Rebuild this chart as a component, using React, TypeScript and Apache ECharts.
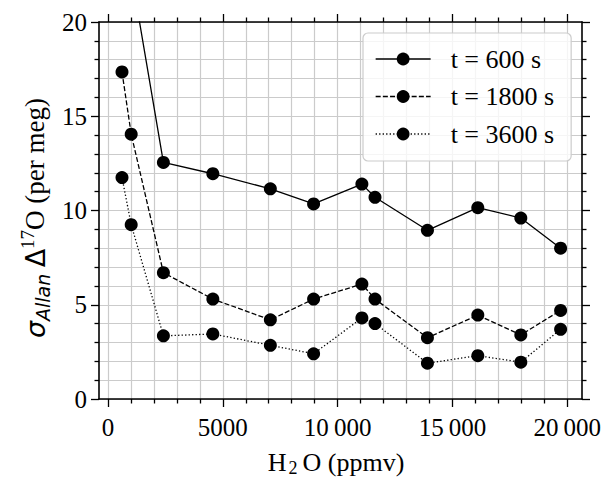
import React, { useEffect, useRef } from "react";
import * as echarts from "echarts";

// Water concentration of each measurement step (ppmv)
const h2o = [600, 1000, 2400, 4550, 7050, 8930, 11030, 11600, 13880, 16070, 17940, 19670];
// Allan deviation of Δ17O (per meg) at three integration times
const sigma600 = [28.4, 22.6, 12.55, 11.95, 11.15, 10.35, 11.4, 10.7, 8.95, 10.15, 9.6, 8.0];
const sigma1800 = [17.35, 14.05, 6.7, 5.3, 4.2, 5.3, 6.1, 5.3, 3.25, 4.45, 3.4, 4.7];
const sigma3600 = [11.75, 9.25, 3.35, 3.45, 2.85, 2.4, 4.3, 4.0, 1.9, 2.3, 1.95, 3.7];
const seriesNames = ["t = 600 s", "t = 1800 s", "t = 3600 s"];
const xTicks = [0, 5000, 10000, 15000, 20000];

const serif = '"Liberation Serif", "Times New Roman", serif';
const sans = '"DejaVu Sans", sans-serif';
const gridColor = "#cbcbcb";

const fmtThousands = (v: number) => {
  if (v < 10000) return String(v);
  const s = String(v);
  return s.slice(0, s.length - 3) + "\u2009" + s.slice(s.length - 3);
};

export default function App() {
  const ref = useRef<HTMLDivElement>(null);

  useEffect(() => {
    if (!ref.current) return;
    const chart = echarts.init(ref.current, null, { renderer: "svg" });

    const toPairs = (ys: number[]) => h2o.map((x, i) => [x, ys[i]]);
    const dashes: (string | number[])[] = ["solid", [5, 2.2], [1.3, 2.2]];
    const values = [sigma600, sigma1800, sigma3600];

    const tickStyle = { color: "#000", width: 1.3 };
    const frameLine = { show: true, onZero: false, lineStyle: { color: "#000", width: 1.6 } };

    chart.setOption({
      animation: false,
      grid: [
        // frame of the plot, holds the data
        { left: 99, right: 22, top: 22, bottom: 78 },
        // inner box spanning 0..20000 ppmv, carries the x ticks and vertical grid
        { left: 108, right: 36, top: 22, bottom: 78 },
      ],
      xAxis: [
        {
          gridIndex: 0, type: "value", min: -400, max: 20600, position: "bottom",
          axisLine: frameLine, axisTick: { show: false }, axisLabel: { show: false }, splitLine: { show: false },
        },
        {
          gridIndex: 0, type: "value", min: -400, max: 20600, position: "top",
          axisLine: frameLine, axisTick: { show: false }, axisLabel: { show: false }, splitLine: { show: false },
        },
        {
          gridIndex: 1, type: "value", min: xTicks[0], max: xTicks[xTicks.length - 1],
          interval: xTicks[1] - xTicks[0], position: "bottom",
          axisLine: { show: false, onZero: false },
          axisTick: { show: true, length: 8, lineStyle: tickStyle },
          minorTick: { show: true, splitNumber: 5, length: 4.5, lineStyle: tickStyle },
          axisLabel: {
            color: "#000", fontFamily: serif, fontSize: 25, margin: 16,
            formatter: (v: number) => fmtThousands(v),
          },
          splitLine: { show: true, lineStyle: { color: gridColor, width: 1.2 } },
          minorSplitLine: { show: true, lineStyle: { color: gridColor, width: 1.2 } },
        },
        {
          gridIndex: 1, type: "value", min: xTicks[0], max: xTicks[xTicks.length - 1],
          interval: xTicks[1] - xTicks[0], position: "top",
          axisLine: { show: false, onZero: false },
          axisTick: { show: true, length: 8, lineStyle: tickStyle },
          minorTick: { show: true, splitNumber: 5, length: 4.5, lineStyle: tickStyle },
          axisLabel: { show: false }, splitLine: { show: false },
        },
      ],
      yAxis: [
        {
          gridIndex: 0, type: "value", min: 0, max: 20, interval: 5, position: "left",
          axisLine: frameLine,
          axisTick: { show: true, length: 8, lineStyle: tickStyle },
          minorTick: { show: true, splitNumber: 5, length: 4.5, lineStyle: tickStyle },
          axisLabel: { color: "#000", fontFamily: serif, fontSize: 25, margin: 12 },
          splitLine: { show: true, lineStyle: { color: gridColor, width: 1.2 } },
          minorSplitLine: { show: true, lineStyle: { color: gridColor, width: 1.2 } },
        },
        {
          gridIndex: 0, type: "value", min: 0, max: 20, interval: 5, position: "right",
          axisLine: frameLine,
          axisTick: { show: true, length: 8, lineStyle: tickStyle },
          minorTick: { show: true, splitNumber: 5, length: 4.5, lineStyle: tickStyle },
          axisLabel: { show: false }, splitLine: { show: false },
        },
        { gridIndex: 1, type: "value", min: 0, max: 20, show: false },
      ],
      legend: {
        data: seriesNames,
        orient: "vertical",
        left: 363,
        top: 33,
        itemWidth: 55,
        itemHeight: 16,
        itemGap: 11.5,
        padding: [13, 17, 14, 12],
        backgroundColor: "rgba(255,255,255,0.8)",
        borderColor: "#cccccc",
        borderWidth: 1.2,
        borderRadius: 5,
        lineStyle: { width: 1.3 },
        formatter: (name: string) => "{gap|}{t|" + name + "}",
        textStyle: {
          color: "#000", fontFamily: serif, fontSize: 26,
          rich: {
            gap: { width: 15 },
            t: { color: "#000", fontFamily: serif, fontSize: 26 },
          },
        },
      },
      series: values.map((ys, i) => ({
        name: seriesNames[i],
        type: "line",
        xAxisIndex: 0,
        yAxisIndex: 0,
        data: toPairs(ys),
        symbol: "circle",
        symbolSize: 13,
        showAllSymbol: true,
        clip: true,
        itemStyle: { color: "#000" },
        lineStyle: { color: "#000", width: 1.3, type: dashes[i] },
        z: 3,
      })),
      graphic: [
        {
          type: "text",
          x: 336,
          y: 462,
          style: {
            text: "{h|H}{s|2}{m|O (ppmv)}",
            align: "center",
            verticalAlign: "middle",
            fill: "#000",
            rich: {
              h: { fontFamily: serif, fontSize: 26, lineHeight: 30, verticalAlign: "middle", fill: "#000", padding: [0, 1, 0, 0] },
              m: { fontFamily: serif, fontSize: 26, lineHeight: 30, verticalAlign: "middle", fill: "#000" },
              s: { fontFamily: serif, fontSize: 18, lineHeight: 16, verticalAlign: "bottom", fill: "#000", padding: [0, 5, 0, 1] },
            },
          },
        },
        {
          type: "text",
          x: 35,
          y: 218,
          rotation: Math.PI / 2,
          style: {
            text: "{g|σ}{a|Allan} {d|Δ}{p|17}{m|O (per meg)}",
            align: "center",
            verticalAlign: "middle",
            fill: "#000",
            rich: {
              g: { fontFamily: sans, fontStyle: "italic", fontSize: 27, lineHeight: 35, verticalAlign: "middle", fill: "#000" },
              a: { fontFamily: sans, fontStyle: "italic", fontSize: 19, lineHeight: 18, verticalAlign: "bottom", fill: "#000" },
              d: { fontFamily: sans, fontSize: 27, lineHeight: 35, verticalAlign: "middle", fill: "#000", padding: [0, 0, 0, 3] },
              p: { fontFamily: serif, fontSize: 19, lineHeight: 20, verticalAlign: "top", fill: "#000" },
              m: { fontFamily: serif, fontSize: 27, lineHeight: 35, verticalAlign: "middle", fill: "#000" },
            },
          },
        },
      ],
    });

    return () => chart.dispose();
  }, []);

  return (
    <div
      ref={ref}
      style={{ position: "fixed", left: 0, top: 0, width: 604, height: 477, background: "#fff" }}
    />
  );
}
